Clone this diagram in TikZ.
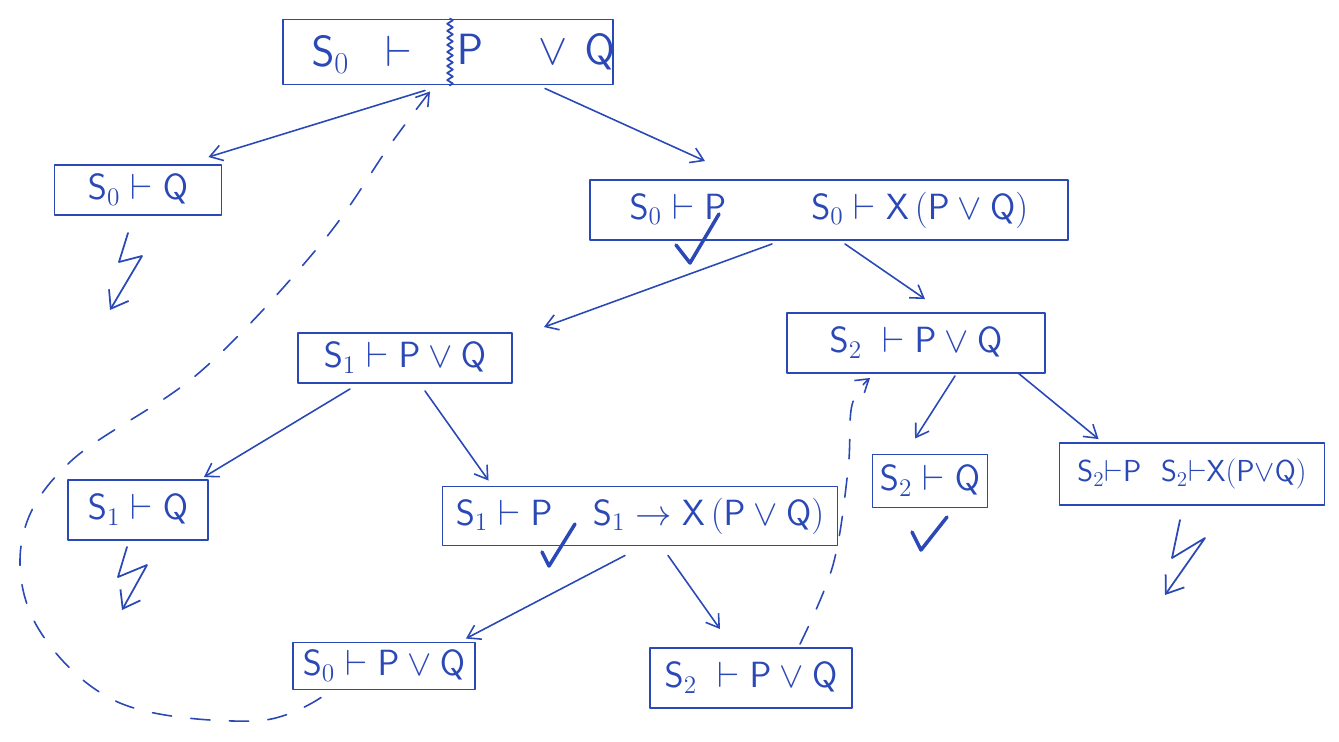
\documentclass[tikz,border=0pt]{standalone}
\usetikzlibrary{arrows.meta,calc,decorations.pathmorphing}
\definecolor{ink}{RGB}{42,72,182}
\newcommand\Sq[1]{\mathsf{S}_{#1}}
\newcommand\Pv{\mathsf{P}}
\newcommand\Qv{\mathsf{Q}}
\newcommand\Xv{\mathsf{X}}
\begin{document}
\begin{tikzpicture}[x=0.02cm,y=-0.02cm,
  every path/.style={line cap=round,line join=round},
  goal/.style={draw=ink,line width=1.1pt,inner sep=0pt,text=ink,
    font=\fontsize{22}{24}\selectfont},
  lbl/.style={text=ink,inner sep=0pt,font=\fontsize{26}{28}\selectfont},
  edge/.style={draw=ink,line width=0.9pt,-{Straight Barb[length=7pt,width=9pt]}},
  back/.style={edge,dash pattern=on 11pt off 11pt},
  tick/.style={draw=ink,line width=2pt},
  bolt/.style={draw=ink,line width=1pt,-{Straight Barb[length=9pt,width=13pt]}}]
\useasboundingbox (0,0) rectangle (1339,741);

% root goal, split into antecedent and succedent
\node[goal,minimum width=330*0.02cm,minimum height=65*0.02cm] (top) at (448,52) {};
\node[lbl] (topL) at (362,55) {$\Sq0\;\;\vdash$};
\node[lbl] (topR) at (536,52) {$\Pv\quad\vee\,\Qv$};
\draw[ink,line width=1pt,decorate,decoration={zigzag,segment length=4pt,amplitude=1.6pt}]
  ($(top.north)+(2,0)$) -- ($(top.south)+(2,0)$);

% derived goals
\node[goal,minimum width=167*0.02cm,minimum height=50*0.02cm] (n1) at (138,190) {$\Sq0\vdash\Qv$};
\node[goal,minimum width=478*0.02cm,minimum height=60*0.02cm] (n2) at (829,210)
  {$\Sq0\vdash\Pv\hspace{2.2em}\Sq0\vdash\Xv\,(\Pv\vee\Qv)$};
\node[goal,minimum width=214*0.02cm,minimum height=50*0.02cm] (n3) at (405,358) {$\Sq1\vdash\Pv\vee\Qv$};
\node[goal,minimum width=258*0.02cm,minimum height=60*0.02cm] (n4) at (916,343) {$\Sq2\;\vdash\Pv\vee\Qv$};
\node[goal,minimum width=140*0.02cm,minimum height=60*0.02cm] (n5) at (138,510) {$\Sq1\vdash\Qv$};
\node[goal,minimum width=395*0.02cm,minimum height=59*0.02cm,font=\fontsize{21}{23}\selectfont] (n6) at (640,516)
  {$\Sq1\vdash\Pv\hspace{1.1em}\Sq1\to\Xv\,(\Pv\vee\Qv)$};
\node[goal,minimum width=115*0.02cm,minimum height=53*0.02cm] (n7) at (930,481) {$\Sq2\vdash\Qv$};
\node[goal,minimum width=265*0.02cm,minimum height=62*0.02cm,font=\fontsize{18.8}{20}\selectfont] (n8) at (1192,474)
  {$\Sq2{\vdash}\Pv\hspace{0.6em}\Sq2{\vdash}\Xv(\Pv{\vee}\Qv)$};
\node[goal,minimum width=182*0.02cm,minimum height=47*0.02cm] (n9) at (384,666) {$\Sq0\vdash\Pv\vee\Qv$};
\node[goal,minimum width=202*0.02cm,minimum height=60*0.02cm] (n10) at (751,678) {$\Sq2\;\vdash\Pv\vee\Qv$};

% proof steps
\draw[edge] ($(top.south)+(-23,5)$) -- ($(n1.north east)+(-14,-7)$);
\draw[edge] ($(top.south)+(97,3)$) -- ($(n2.north)+(-124,-18)$);
\draw[edge] ($(n2.south)+(-57,3)$) -- ($(n3.north east)+(31,-5)$);
\draw[edge] ($(n2.south)+(16,3)$) -- ($(n4.north)+(9,-13)$);
\draw[edge] ($(n3.south)+(-55,5)$) -- ($(n5.north east)+(-5,-2)$);
\draw[edge] ($(n3.south)+(20,7)$) -- ($(n6.north west)+(47,-5)$);
\draw[edge] ($(n4.south)+(39,2)$) -- ($(n7.north)+(-15,-15)$);
\draw[edge] ($(n4.south)+(102,-1)$) -- ($(n8.north west)+(40,-3)$);
\draw[edge] ($(n6.south)+(-15,9)$) -- ($(n9.north east)+(-10,-3)$);
\draw[edge] ($(n6.south)+(28,9)$) -- ($(n10.north)+(-31,-18)$);

% back links to earlier goals
\coordinate (loopS) at ($(n9.south west)+(29,7)$);
\coordinate (loopE) at ($(top.south)+(-18,6)$);
\draw[back] plot[smooth,tension=0.6] coordinates
  {(loopS) (255,721) (120,703) (38,628) (22,540) (70,462) (200,372) (320,245) (390,145) (loopE)};
\coordinate (cycS) at ($(n10.north)+(49,-3)$);
\coordinate (cycE) at ($(n4.south)+(-46,4)$);
\draw[back] plot[smooth,tension=0.6] coordinates
  {(cycS) (833,565) (848,470) (852,405) (cycE)};

% closed branches
\draw[tick] (676,245) -- (690,263) -- (719,214);
\draw[tick] (542,552) -- (549,566) -- (575,524);
\draw[tick] (912,532) -- (921,550) -- (947,517);

% failed branches
\draw[bolt] (128,233) -- (119,262) -- (142,256) -- (110,310);
\draw[bolt] (127,547) -- (118,577) -- (147,565) -- (122,610);
\draw[bolt] (1180,520) -- (1172,558) -- (1205,538) -- (1165,595);
\end{tikzpicture}
\end{document}
